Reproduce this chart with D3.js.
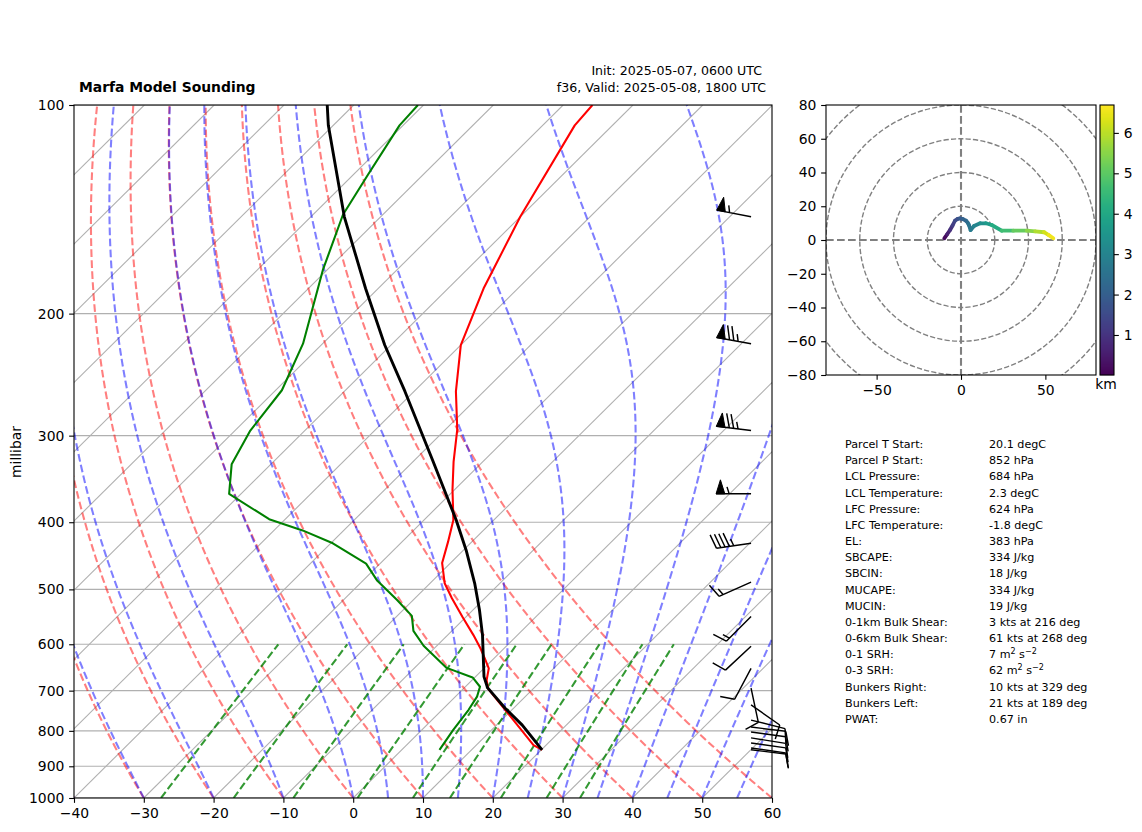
<!DOCTYPE html>
<html>
<head>
<meta charset="utf-8">
<script src="https://cdn.jsdelivr.net/npm/d3@7"></script>
<style>
html,body{margin:0;padding:0;background:#fff;}
svg{display:block;}
text{font-family:"DejaVu Sans",sans-serif;fill:#000;}
</style>
</head>
<body>
<svg id="chart" width="1142" height="832"></svg>
<script>
// ---- sounding data ----
const tempPressure = [852,839,793,742,695,676,650,629,608,582,547,515,490,458,427,397,359,327,294,259,222,184,145,107,100];
const tempValues   = [20.1,18.2,13.8,8.6,3.5,2.1,0.7,-1.3,-3.4,-6.3,-10.6,-14.7,-17.9,-21.2,-23.4,-25.8,-30.3,-34.2,-38.3,-44,-50,-54.9,-60.0,-65.4,-65.8];
const dewPressure  = [852,798,746,714,691,670,649,603,574,546,518,486,459,429,411,396,364,330,295,258,221,173,144,126,107,100];
const dewValues    = [5.4,4.5,3.8,3.1,2.1,-0.3,-5.4,-11.9,-15.5,-17.9,-22.3,-27.9,-32,-39.7,-45.9,-52.3,-61.7,-65.6,-67.8,-69.1,-72.8,-80.6,-85.7,-87.9,-90.5,-90.8];
const parcelPressure = [852,785,742,693,668,618,582,535,490,439,397,325,259,222,184,145,107,100];
const parcelValues   = [20.1,13.7,8.8,3.3,1.2,-2.3,-5,-9.1,-13.6,-19.6,-25.4,-37.5,-51.3,-60.9,-71.8,-85.2,-100.7,-103.8];

const barbPressure = [145,221,295,364,429,488,547,604,650,694,734,772,790,803,819,833,847,852];
const barbSpeed    = [55,75,75,55,45,15,15,10,10,10,10,10,10,10,10,10,10,10];
const barbDir      = [281,280,277,270,262,246,225,227,208,168,125,104,97,98,99,98,98,97];

// ---- reference line families ----
const dryAdiabatStarts = [-40,-30,-20,-10,0,10,20,30,40,50,60];
const moistStarts = [-40,-30,-20,-10,0,5,10,15,20,25,30,35,40,45,50,55,60];
const mixingRatios = [0.0004,0.001,0.002,0.004,0.007,0.01,0.016,0.024,0.032];
const isothermTicks = [-140,-130,-120,-110,-100,-90,-80,-70,-60,-50,-40,-30,-20,-10,0,10,20,30,40,50,60];
const pressureTicks = [100,200,300,400,500,600,700,800,900,1000];
const tempTicks = [-40,-30,-20,-10,0,10,20,30,40,50,60];

// ---- hodograph data ----
const hodoU = [-9.9,-8.2,-6.5,-5,-3.6,-2,-0.6,1.2,3,4,4.7,5.7,7.7,11.3,14.8,18.2,24.1,31,38.9,44,49.2,52,54.7];
const hodoV = [1.0,3.4,5.9,8.6,11.4,12.5,12.8,12.4,11.4,10.2,8.9,5.9,8.3,9.9,9.9,8.9,5.5,5.5,5.5,5.1,4.6,2.9,1.0];
const hodoH = [0.01,0.4,0.8,1.1,1.4,1.6,1.8,2.0,2.2,2.35,2.5,2.7,2.9,3.2,3.5,3.8,4.4,4.9,5.3,5.7,6.1,6.4,6.69];
const hodoRings = [20,40,60,80,100];
const hodoYTicks = [80,60,40,20,0,-20,-40,-60,-80];
const hodoXTicks = [-50,0,50];
const cbarTicks = [1,2,3,4,5,6];
const cbarDomain = [0.01,6.69];

// ---- text block ----
const statLabels = ["Parcel T Start:","Parcel P Start:","LCL Pressure:","LCL Temperature:","LFC Pressure:","LFC Temperature:","EL:","SBCAPE:","SBCIN:","MUCAPE:","MUCIN:","0-1km Bulk Shear:","0-6km Bulk Shear:","0-1 SRH:","0-3 SRH:","Bunkers Right:","Bunkers Left:","PWAT:"];
const statValues = ["20.1 degC","852 hPa","684 hPa","2.3 degC","624 hPa","-1.8 degC","383 hPa","334 J/kg","18 J/kg","334 J/kg","19 J/kg","3 kts at 216 deg","61 kts at 268 deg","7 m^2 s^-2","62 m^2 s^-2","10 kts at 329 deg","21 kts at 189 deg","0.67 in"];

// ---- layout ----
const svg = d3.select("#chart");
const L=74,R=772,T=105,B=798, SK=1.008;
const x = d3.scaleLinear().domain([-40,60]).range([L,R]);
const y = d3.scaleLog().domain([100,1000]).range([T,B]);
const skewX = (t,p) => x(t) + SK*(B - y(p));
const skewLine = d3.line().x(d=>skewX(d[0],d[1])).y(d=>y(d[1]));

svg.append("defs").append("clipPath").attr("id","skewClip").append("rect")
  .attr("x",L).attr("y",T).attr("width",R-L).attr("height",B-T);
const hx0=826,hx1=1096,hy0=105,hy1=375;
svg.select("defs").append("clipPath").attr("id","hodoClip").append("rect")
  .attr("x",hx0).attr("y",hy0).attr("width",hx1-hx0).attr("height",hy1-hy0);

const plot = svg.append("g").attr("clip-path","url(#skewClip)");

// grid
plot.selectAll("line.h").data(pressureTicks).join("line")
  .attr("x1",L).attr("x2",R).attr("y1",d=>y(d)).attr("y2",d=>y(d))
  .attr("stroke","#b0b0b0").attr("stroke-width",1.1);
plot.selectAll("line.iso").data(isothermTicks).join("line")
  .attr("x1",d=>skewX(d,1000)).attr("y1",B).attr("x2",d=>skewX(d,100)).attr("y2",T)
  .attr("stroke","#b0b0b0").attr("stroke-width",1.1);

// thermodynamic reference curves
const pLevels = d3.range(0,121).map(i=>1000*Math.pow(0.1,i/120));
const Rd=287.05,Cp=1005.7,Lv=2.501e6,eps=0.62197;
function esat(tc){return 6.112*Math.exp(17.67*tc/(tc+243.5));}
function moistSlope(p,tk){
  const es=esat(tk-273.15), rs=eps*es/(p-es);
  return (Rd*tk+Lv*rs)/(Cp+Lv*Lv*rs*eps/(Rd*tk*tk));
}
function moistCurve(t0){
  let tk=t0+273.15; const out=[[t0,1000]];
  for(let i=1;i<pLevels.length;i++){
    const l0=Math.log(pLevels[i-1]),l1=Math.log(pLevels[i]),h=l1-l0;
    const f=(l,t)=>moistSlope(Math.exp(l),t);
    const k1=f(l0,tk),k2=f(l0+h/2,tk+h*k1/2),k3=f(l0+h/2,tk+h*k2/2),k4=f(l1,tk+h*k3);
    tk+=h*(k1+2*k2+2*k3+k4)/6;
    out.push([tk-273.15,pLevels[i]]);
  }
  return out;
}
const dryCurve = t0 => pLevels.map(p=>[(t0+273.15)*Math.pow(p/1000,Rd/Cp)-273.15,p]);
const mixCurve = w => d3.range(0,21).map(i=>{
  const p=1000-20*i, e=p*w/(eps+w), g=Math.log(e/6.112);
  return [243.5*g/(17.67-g),p];
});
const dash="7.7,3.3";
plot.selectAll("path.dry").data(dryAdiabatStarts).join("path")
  .attr("d",d=>skewLine(dryCurve(d))).attr("fill","none").attr("stroke","red")
  .attr("stroke-opacity",.5).attr("stroke-width",2.08).attr("stroke-dasharray",dash);
plot.selectAll("path.moist").data(moistStarts).join("path")
  .attr("d",d=>skewLine(moistCurve(d))).attr("fill","none").attr("stroke","blue")
  .attr("stroke-opacity",.5).attr("stroke-width",2.08).attr("stroke-dasharray",dash);
plot.selectAll("path.mix").data(mixingRatios).join("path")
  .attr("d",d=>skewLine(mixCurve(d))).attr("fill","none").attr("stroke","green")
  .attr("stroke-opacity",.8).attr("stroke-width",2.08).attr("stroke-dasharray",dash);

// sounding traces
const zip=(a,b)=>a.map((v,i)=>[v,b[i]]);
plot.append("path").attr("d",skewLine(zip(tempValues,tempPressure))).attr("fill","none").attr("stroke","red").attr("stroke-width",2.08).attr("stroke-linejoin","round");
plot.append("path").attr("d",skewLine(zip(dewValues,dewPressure))).attr("fill","none").attr("stroke","green").attr("stroke-width",2.08).attr("stroke-linejoin","round");
plot.append("path").attr("d",skewLine(zip(parcelValues,parcelPressure))).attr("fill","none").attr("stroke","black").attr("stroke-width",2.9).attr("stroke-linejoin","round");

// wind barbs (matplotlib geometry)
const barbX = x.range()[0] + 0.970*(R-L);
const SHAFT=35, BH=0.4*SHAFT, BW=0.25*SHAFT, BS=0.125*SHAFT;
function barbPath(speed,dir,p){
  const ox=barbX, oy=y(p), a=dir*Math.PI/180;
  const tx=Math.sin(a), ty=Math.cos(a);        // tail direction (math axes)
  const fx=ty, fy=-tx;                         // feather direction
  const pt=(h,o)=>[ox+h*fx+o*tx, oy-(h*fy+o*ty)];
  let flags=Math.floor(speed/50), rem=speed-flags*50;
  let full=Math.floor(rem/10); rem-=full*10;
  const half=rem>=5;
  let off=SHAFT, d=`M${pt(0,0)}L${pt(0,SHAFT)}`, fillD="";
  for(let i=0;i<flags;i++){
    fillD+=`M${pt(0,off)}L${pt(BH,off-BW/2)}L${pt(0,off-BW)}Z`;
    off-=BW+BS;
  }
  for(let i=0;i<full;i++){ d+=`M${pt(0,off)}L${pt(BH,off+BW/2)}`; off-=BS; }
  if(half) d+=`M${pt(0,off)}L${pt(BH/2,off+BW/4)}`;
  return {d,fillD};
}
const barbs=svg.append("g");
barbPressure.forEach((p,i)=>{
  const b=barbPath(barbSpeed[i],barbDir[i],p);
  barbs.append("path").attr("d",b.d).attr("fill","none").attr("stroke","#000").attr("stroke-width",1.45);
  if(b.fillD) barbs.append("path").attr("d",b.fillD).attr("fill","#000").attr("stroke","#000").attr("stroke-width",1);
});

// axes
function styleAxis(g){
  g.selectAll("text").attr("font-size","13.9px").attr("font-family",'"DejaVu Sans"').attr("fill","#000");
  g.selectAll("line").attr("stroke","#000").attr("stroke-width",1.1);
  g.select(".domain").remove();
}
svg.append("g").attr("transform",`translate(0,${B})`)
  .call(d3.axisBottom(x).tickValues(tempTicks).tickSize(4.86).tickPadding(5.2).tickFormat(d3.format("d"))).call(styleAxis);
svg.append("g").attr("transform",`translate(${L},0)`)
  .call(d3.axisLeft(y).tickValues(pressureTicks).tickSize(4.86).tickPadding(4.8).tickFormat(d3.format("d"))).call(styleAxis);
svg.append("rect").attr("x",L).attr("y",T).attr("width",R-L).attr("height",B-T).attr("fill","none").attr("stroke","#000").attr("stroke-width",1.1);

svg.append("text").attr("transform","translate(21,452) rotate(-90)").attr("text-anchor","middle").attr("font-size","13.9px").text("millibar");
svg.append("text").attr("x",79).attr("y",92).attr("font-size","13.9px").attr("font-weight","bold").text("Marfa Model Sounding");
svg.append("text").attr("x",762).attr("y",74.5).attr("text-anchor","end").attr("font-size","12.6px").text("Init: 2025-05-07, 0600 UTC");
svg.append("text").attr("x",766).attr("y",92).attr("text-anchor","end").attr("font-size","12.6px").text("f36, Valid: 2025-05-08, 1800 UTC");

// hodograph
const hu=d3.scaleLinear().domain([-80,80]).range([hx0,hx1]);
const hv=d3.scaleLinear().domain([-80,80]).range([hy1,hy0]);
const hodo=svg.append("g").attr("clip-path","url(#hodoClip)");
hodo.selectAll("circle").data(hodoRings).join("circle")
  .attr("cx",hu(0)).attr("cy",hv(0)).attr("r",d=>hu(d)-hu(0))
  .attr("fill","none").attr("stroke","#808080").attr("stroke-width",1.4).attr("stroke-dasharray","5.2,2.2");
hodo.append("line").attr("x1",hx0).attr("x2",hx1).attr("y1",hv(0)).attr("y2",hv(0)).attr("stroke","#808080").attr("stroke-width",2.1).attr("stroke-dasharray",dash);
hodo.append("line").attr("x1",hu(0)).attr("x2",hu(0)).attr("y1",hy0).attr("y2",hy1).attr("stroke","#808080").attr("stroke-width",2.1).attr("stroke-dasharray",dash);
const hColor=d3.scaleSequential(d3.interpolateViridis).domain(cbarDomain);
d3.pairs(d3.range(hodoU.length)).forEach(([a,b])=>{
  hodo.append("line").attr("x1",hu(hodoU[a])).attr("y1",hv(hodoV[a])).attr("x2",hu(hodoU[b])).attr("y2",hv(hodoV[b]))
    .attr("stroke",hColor((hodoH[a]+hodoH[b])/2)).attr("stroke-width",3.8).attr("stroke-linecap","round");
});
svg.append("g").attr("transform",`translate(0,${hy1})`)
  .call(d3.axisBottom(hu).tickValues(hodoXTicks).tickSize(4.86).tickPadding(5.2).tickFormat(d3.format("d"))).call(styleAxis);
svg.append("g").attr("transform",`translate(${hx0},0)`)
  .call(d3.axisLeft(hv).tickValues(hodoYTicks).tickSize(4.86).tickPadding(4.8).tickFormat(d3.format("d"))).call(styleAxis);
svg.append("rect").attr("x",hx0).attr("y",hy0).attr("width",hx1-hx0).attr("height",hy1-hy0).attr("fill","none").attr("stroke","#000").attr("stroke-width",1.1);

// colour bar
const cx0=1100,cx1=1114;
const cy=d3.scaleLinear().domain(cbarDomain).range([hy1,hy0]);
const cg=svg.append("g");
d3.range(hy0,hy1).forEach(py=>{
  cg.append("rect").attr("x",cx0).attr("width",cx1-cx0).attr("y",py).attr("height",1.2)
    .attr("fill",hColor(cy.invert(py+0.5)));
});
svg.append("g").attr("transform",`translate(${cx1},0)`)
  .call(d3.axisRight(cy).tickValues(cbarTicks).tickSize(4.86).tickPadding(4.8).tickFormat(d3.format("d"))).call(styleAxis);
svg.append("rect").attr("x",cx0).attr("y",hy0).attr("width",cx1-cx0).attr("height",hy1-hy0).attr("fill","none").attr("stroke","#000").attr("stroke-width",1.1);
svg.append("text").attr("x",1106).attr("y",389).attr("text-anchor","middle").attr("font-size","13.9px").text("km");

// stats table
const rowY=d3.scaleLinear().domain([0,statLabels.length-1]).range([448,723]);
const st=svg.append("g");
statLabels.forEach((s,i)=>{
  st.append("text").attr("x",845).attr("y",rowY(i)).attr("font-size","11.15px").text(s);
  const t=st.append("text").attr("x",989).attr("y",rowY(i)).attr("font-size","11.15px");
  const v=statValues[i];
  if(v.includes("^")){
    const m=v.match(/^(.*) m\^2 s\^-2$/);
    t.append("tspan").text(m[1]+" m");
    t.append("tspan").attr("dy",-4).attr("font-size","8px").text("2");
    t.append("tspan").attr("dy",4).text(" s");
    t.append("tspan").attr("dy",-4).attr("font-size","8px").text("\u22122");
  } else t.text(v);
});
</script>
</body>
</html>
